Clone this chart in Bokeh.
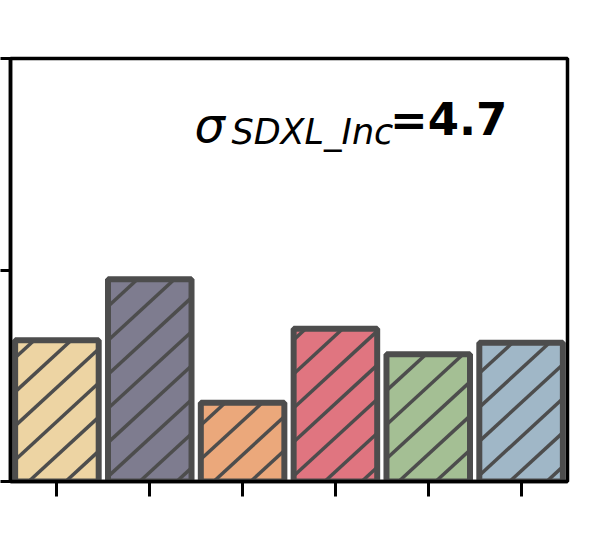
from bokeh.plotting import figure
from bokeh.models import Range1d, Label, ColumnDataSource, FixedTicker
from bokeh.embed import file_html
from bokeh.resources import INLINE

# data
positions = [0, 1, 2, 3, 4, 5]
values = [16.7, 23.9, 9.3, 18.05, 15.05, 16.4]
colors = ["#EDD4A3", "#7E7C8F", "#EBA87B", "#E07580", "#A4BF94", "#A0B7C7"]
y_ticks = [0, 25, 50]
sigma_value = "=4.7"
sigma_sub = "SDXL_Inc"

X0, X1, Y0, Y1 = -0.5, 5.5, 0, 50
W, H = 590, 550
BL, BR, BT, BB = 10, 23, 58, 69
BAR_W = 0.9
px_x = (W - BL - BR) / (X1 - X0)
px_y = (H - BT - BB) / (Y1 - Y0)

# hatch "/" lines computed in screen space, clipped to each bar
SLOPE, SPACING, PHASE = 0.92, 37.0, -18.8
hx0, hy0, hx1, hy1 = [], [], [], []
for xc, top in zip(positions, values):
    xl = (xc - BAR_W / 2 - X0) * px_x
    xr = (xc + BAR_W / 2 - X0) * px_x
    yb, yt = 0.0, top * px_y
    k0 = int((xl - yt / SLOPE - PHASE) // SPACING) - 1
    k1 = int((xr - PHASE) // SPACING) + 1
    for k in range(k0, k1 + 1):
        c = PHASE + k * SPACING
        a = max(xl, c + yb / SLOPE)
        b = min(xr, c + yt / SLOPE)
        if b - a > 0.5:
            hx0.append(X0 + a / px_x); hy0.append(SLOPE * (a - c) / px_y)
            hx1.append(X0 + b / px_x); hy1.append(SLOPE * (b - c) / px_y)

src = ColumnDataSource(dict(x=positions, top=values, color=colors))

p = figure(width=W, height=H, output_backend="svg", toolbar_location=None,
           x_range=Range1d(X0, X1), y_range=Range1d(Y0, Y1),
           min_border_left=BL, min_border_right=BR, min_border_top=BT, min_border_bottom=BB)

p.vbar(x="x", top="top", width=BAR_W, bottom=0, source=src,
       fill_color="color", line_color=None)
p.segment(x0=hx0, y0=hy0, x1=hx1, y1=hy1, line_color="#4D4D4D", line_width=3.5)
p.vbar(x="x", top="top", width=BAR_W, bottom=0, source=src,
       fill_color=None, line_color="#4D4D4D", line_width=6)

p.xgrid.visible = False
p.ygrid.visible = False
p.outline_line_color = "black"
p.outline_line_width = 3.5
p.outline_line_alpha = 1

xa = p.xaxis[0]
xa.ticker = FixedTicker(ticks=positions)
xa.major_label_overrides = {t: "" for t in positions}
xa.major_label_standoff = 0
xa.axis_line_width = 3.5
xa.axis_line_color = "black"
xa.major_tick_out = 15
xa.major_tick_in = 0
xa.major_tick_line_width = 3
xa.major_tick_line_color = "black"
xa.minor_tick_line_color = None

ya = p.yaxis[0]
ya.ticker = FixedTicker(ticks=y_ticks)
ya.major_label_overrides = {t: "" for t in y_ticks}
ya.major_label_standoff = 0
ya.axis_line_width = 3.5
ya.axis_line_color = "black"
ya.major_tick_out = 10
ya.major_tick_in = 0
ya.major_tick_line_width = 3
ya.major_tick_line_color = "black"
ya.minor_tick_line_color = None

p.add_layout(Label(x=1.482, y=42.15, text="σ", text_font="DejaVu Sans",
                   text_font_style="italic", text_baseline="alphabetic",
                   text_font_size="48px", text_color="black"))
p.add_layout(Label(x=1.88, y=41.35, text=sigma_sub, text_font="DejaVu Sans",
                   text_font_style="italic", text_baseline="alphabetic",
                   text_font_size="35px", text_color="black"))
p.add_layout(Label(x=3.588, y=42.75, text=sigma_value, text_font="DejaVu Sans",
                   text_font_style="bold", text_baseline="alphabetic",
                   text_font_size="45px", text_color="black"))

open("out.html", "w").write(file_html(p, INLINE))
